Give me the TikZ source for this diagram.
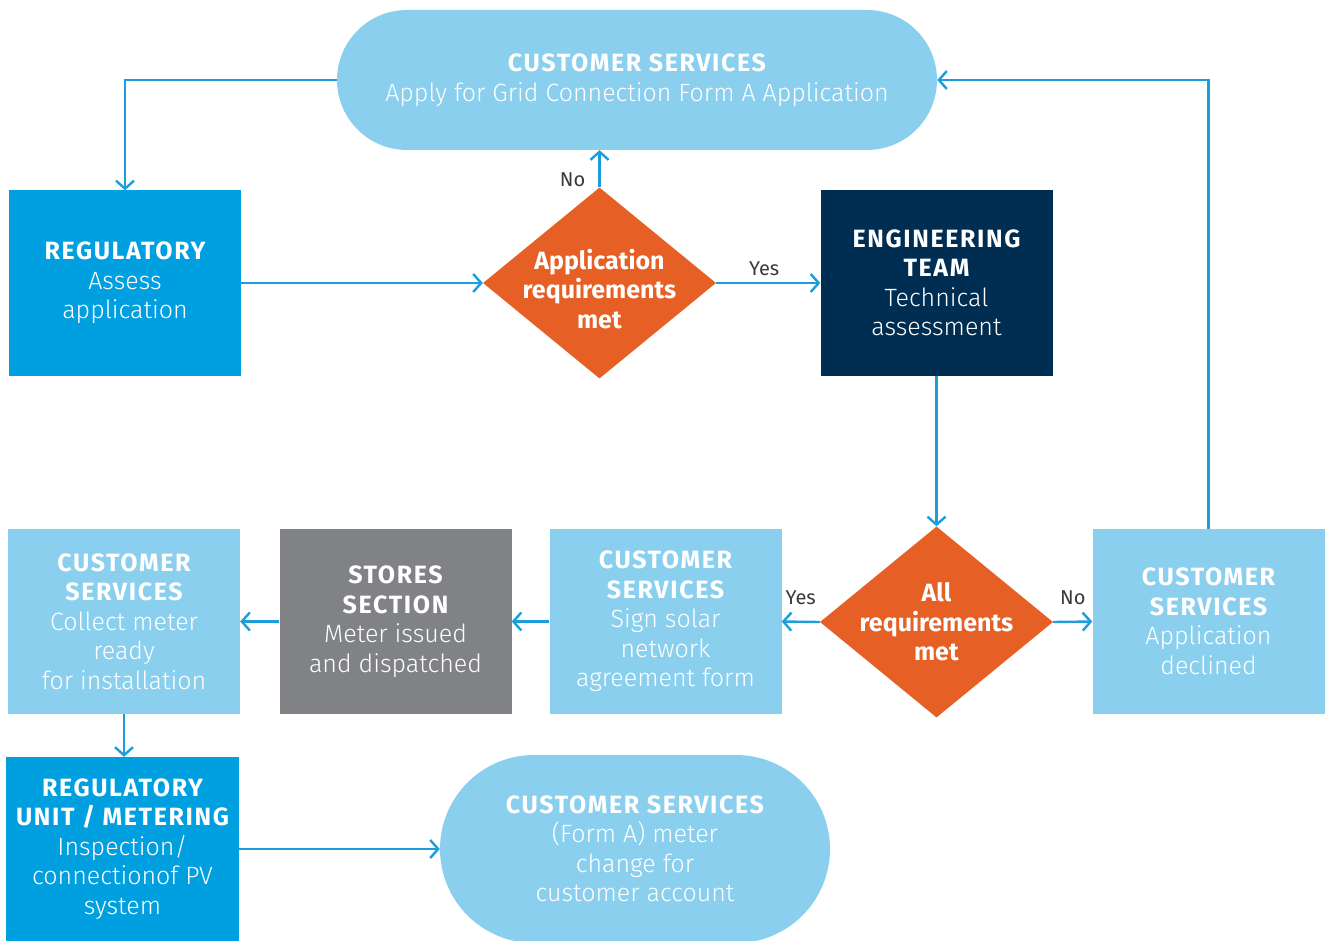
\documentclass[tikz,border=0pt]{standalone}
\usepackage{fontspec}
\setmainfont{Fira Sans Light}[BoldFont={Fira Sans Bold}]
\newfontfamily\lblfont{Fira Sans}
\newfontfamily\capsfont{Fira Sans Bold}[LetterSpace=6.5]
\usetikzlibrary{arrows.meta,positioning,shapes.geometric}
\definecolor{regblue}{HTML}{009FDF}
\definecolor{custblue}{HTML}{8BCFEE}
\definecolor{engnavy}{HTML}{002E52}
\definecolor{decorange}{HTML}{E65F25}
\definecolor{storegrey}{HTML}{808285}
\definecolor{linkblue}{HTML}{1C9DDC}
\definecolor{lblgrey}{HTML}{3A3A3A}
\newcommand{\ttl}[1]{{\capsfont #1}}
\tikzset{
  flow/.style={x=1pt,y=-1pt,
    every node/.style={text=white,align=center,inner sep=0pt,
      font=\fontsize{25}{29.5}\selectfont},
    link/.style={draw=linkblue,line width=2.4pt,->,
      >={Straight Barb[length=8pt,width=18pt]}},
    lbl/.style={text=lblgrey,font=\lblfont\fontsize{20}{24}\selectfont},
    proc/.style={rectangle,minimum width=232pt,minimum height=185pt},
    decision/.style={diamond,fill=decorange,minimum width=233pt,minimum height=191pt},
    term/.style={rectangle,fill=custblue},
  },
}

\begin{document}
\begin{tikzpicture}[flow]
  \useasboundingbox (0,0) rectangle (1330,941);
  \clip (0,0) rectangle (1330,941);

  \node[term,minimum width=600pt,minimum height=140pt,rounded corners=70pt] (apply) at (637,80)
    {\ttl{CUSTOMER SERVICES}\\Apply for Grid Connection Form A Application};
  \node[proc,fill=regblue] (assess) at (125,283) {\ttl{REGULATORY}\\Assess\\application};
  \node[decision,label={[yshift=-6pt]center:\textbf{Application}\\\textbf{requirements}\\\textbf{met}}] (appmet) at (599.5,283) {};
  \node[proc,fill=engnavy] (engteam) at (936.5,283)
    {\ttl{ENGINEERING}\\\ttl{TEAM}\\Technical\\assessment};
  \node[decision,label={center:\textbf{All}\\\textbf{requirements}\\\textbf{met}}] (allmet) at (936.5,622) {};
  \node[proc,fill=custblue] (declined) at (1208.5,621.5)
    {\ttl{CUSTOMER}\\\ttl{SERVICES}\\Application\\declined};
  \node[proc,fill=custblue] (signform) at (665.5,621.5)
    {\ttl{CUSTOMER}\\\ttl{SERVICES}\\Sign solar\\network\\agreement form};
  \node[proc,fill=storegrey] (stores) at (395.5,621.5)
    {\ttl{STORES}\\\ttl{SECTION}\\Meter issued\\and dispatched};
  \node[proc,fill=custblue] (collect) at (124,621.5)
    {\ttl{CUSTOMER}\\\ttl{SERVICES}\\Collect meter\\ready\\for installation};
  \node[proc,fill=regblue,minimum width=233pt,minimum height=184pt] (metering) at (122.5,849)
    {\ttl{REGULATORY}\\\ttl{UNIT / METERING}\\Inspection/\\connectionof PV\\system};
  \node[term,minimum width=390pt,minimum height=188pt,rounded corners=94pt] (account) at (635,849)
    {\ttl{CUSTOMER SERVICES}\\(Form A) meter\\change for\\customer account};

  \draw[link] (apply.west) -| (assess.north);
  \draw[link] (assess.east) -- (appmet.west);
  \draw[link] (appmet.north) -- node[lbl,pos=0.2,left=13pt]{No} (appmet.north |- apply.south);
  \draw[link] (appmet.east) -- node[lbl,above=6pt,xshift=-4pt]{Yes} (engteam.west);
  \draw[link] (engteam.south) -- (allmet.north);
  \draw[link] (allmet.west) -- node[lbl,above=16pt]{Yes} (signform.east);
  \draw[link] (allmet.east) -- node[lbl,above=16pt]{No} (declined.west);
  \draw[link] (declined.north) |- (apply.east);
  \draw[link] (signform.west) -- (stores.east);
  \draw[link] (stores.west) -- (collect.east);
  \draw[link] (collect.south) -- (collect.south |- metering.north);
  \draw[link] (metering.east) -- (account.west);
\end{tikzpicture}
\end{document}
